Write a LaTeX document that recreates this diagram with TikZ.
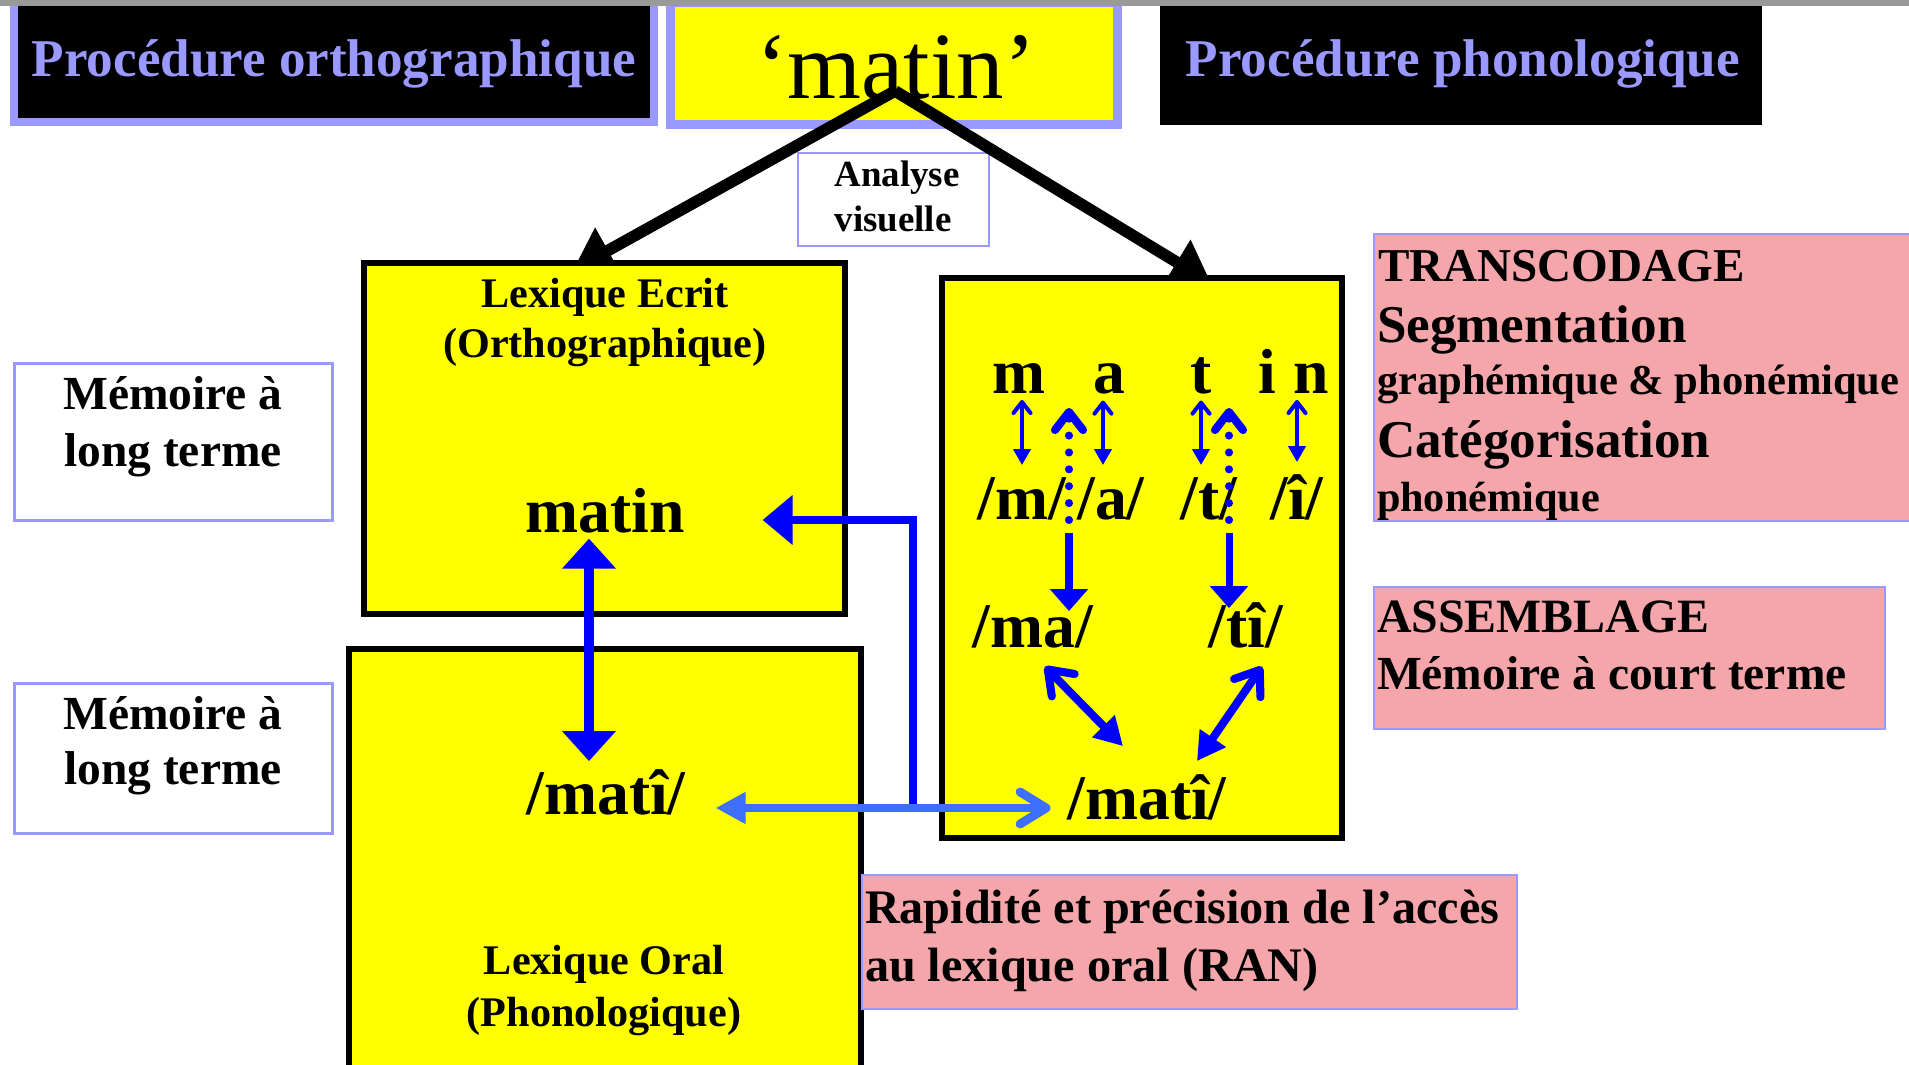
\documentclass[tikz,border=0pt]{standalone}
\usepackage{fontspec}
\setmainfont{Liberation Serif}
\usetikzlibrary{arrows.meta}

\definecolor{lav}{HTML}{9999FF}
\definecolor{rose}{HTML}{F4A6AB}
\definecolor{ltblue}{HTML}{3F6FFF}
\definecolor{ylw}{HTML}{FFFF00}
\definecolor{topbar}{HTML}{999999}
\newcommand{\fsz}[1]{\fontsize{#1}{#1}\selectfont\bfseries}

\begin{document}
\begin{tikzpicture}[x = 0.01cm, y = -0.01cm,
        every node/.style = {inner sep = 0pt, outer sep = 0pt},
        txt/.style = {anchor = base},
        ltxt/.style = {anchor = base west},
        lexbox/.style = {draw = black, fill = ylw, line width = 1.7pt},
        memo/.style = {draw = lav, fill = white, line width = 0.8pt},
        rosebox/.style = {draw = lav, fill = rose, line width = 0.7pt},
        blk/.style = {line width = 3.3pt, -{Triangle[length = 0.4cm, width = 0.5cm]}},
        bigblue/.style = {blue, line width = 2.85pt, {Triangle[length = 0.3cm, width = 0.52cm]}-{Triangle[length = 0.3cm, width = 0.52cm]}},
        elbow/.style = {blue, line width = 2.3pt, -{Triangle[length = 0.3cm, width = 0.48cm]}},
        ltarrow/.style = {ltblue, line width = 2.5pt, {Triangle[length = 0.3cm, width = 0.3cm]}-{Straight Barb[round, length = 0.26cm, width = 0.32cm]}},
        sm/.style = {blue, line width = 1.15pt, shorten < = 0.13cm, shorten > = 0.06cm, {Triangle[length = 0.16cm, width = 0.17cm]}-{Straight Barb[round, length = 0.11cm, width = 0.17cm]}},
        dots/.style = {blue, line width = 2.3pt, line cap = round, dash pattern = on 0pt off 4.8pt, -{Straight Barb[round, length = 0.18cm, width = 0.28cm]}},
        down/.style = {blue, line width = 2pt, shorten > = -0.05cm, -{Triangle[length = 0.22cm, width = 0.37cm]}},
        diag/.style = {blue, line width = 2.3pt, {Straight Barb[round, length = 0.22cm, width = 0.32cm]}-{Triangle[length = 0.28cm, width = 0.3cm]}}]

    \clip (0, 0) rectangle (1909, 1065);

    % titres
    \node (hdL) at (334, 62) [fill = black, draw = lav, line width = 2.3pt, minimum width = 6.4cm, minimum height = 1.2cm] {};
    \node (hdM) at (894, 63.25) [fill = ylw, draw = lav, line width = 2.6pt, minimum width = 4.47cm, minimum height = 1.225cm] {};
    \node (hdR) at (1461, 65.5) [fill = black, minimum width = 6.02cm, minimum height = 1.19cm] {};
    \node (hl) at (334, 77) [txt, text = lav, font = \fsz{15.1}] {Procédure orthographique};
    \node (hr) at (1463, 77) [txt, text = lav, font = \fsz{15.1}] {Procédure phonologique};
    \node (mot) at (896, 99) [txt, font = \fontsize{27}{27}\selectfont] {‘matin’};

    \node (av) at (893.5, 199.5) [memo, minimum width = 1.91cm, minimum height = 0.93cm] {};
    \node (av1) at (897, 187) [txt, font = \fsz{10.5}] {Analyse};
    \node (av2) at (893, 232) [txt, font = \fsz{10.5}] {visuelle};

    % deux voies
    \coordinate (apex) at (895, 91);
    \coordinate (tipL) at (573, 270);
    \coordinate (tipR) at (1211, 283);
    \draw[blk] (apex) -- (tipL);
    \draw[blk] (apex) -- (tipR);

    \node (lexE) at (604.5, 438.5) [lexbox, minimum width = 4.81cm, minimum height = 3.51cm] {};
    \node (lexO) at (605, 874.5) [lexbox, minimum width = 5.12cm, minimum height = 4.51cm] {};
    \node (phon) at (1142, 558) [lexbox, minimum width = 4cm, minimum height = 5.6cm] {};

    \node (memA) at (173.5, 442) [memo, minimum width = 3.18cm, minimum height = 1.57cm] {};
    \node (memB) at (173.5, 758.5) [memo, minimum width = 3.18cm, minimum height = 1.5cm] {};
    \node (mA1) at (173, 410) [txt, font = \fsz{13.5}] {Mémoire à};
    \node (mA2) at (173, 467) [txt, font = \fsz{13.5}] {long terme};
    \node (mB1) at (173, 730) [txt, font = \fsz{13.5}] {Mémoire à};
    \node (mB2) at (173, 785) [txt, font = \fsz{13.5}] {long terme};

    \node (trans) at (1649.5, 377.5) [rosebox, minimum width = 5.51cm, minimum height = 2.87cm] {};
    \node (tr1) at (1378, 282) [ltxt, font = \fsz{13.4}] {TRANSCODAGE};
    \node (tr2) at (1377, 343) [ltxt, font = \fsz{15.1}] {Segmentation};
    \node (tr3) at (1377, 395) [ltxt, font = \fsz{12.1}] {graphémique \& phonémique};
    \node (tr4) at (1377, 458) [ltxt, font = \fsz{15.1}] {Catégorisation};
    \node (tr5) at (1377, 512) [ltxt, font = \fsz{12}] {phonémique};

    \node (asm) at (1629.5, 658) [rosebox, minimum width = 5.11cm, minimum height = 1.42cm] {};
    \node (as1) at (1377, 633) [ltxt, font = \fsz{13.6}] {ASSEMBLAGE};
    \node (as2) at (1377, 690) [ltxt, font = \fsz{13.5}] {Mémoire à court terme};

    \node (ran) at (1189.5, 942) [rosebox, minimum width = 6.55cm, minimum height = 1.34cm] {};
    \node (ra1) at (865, 924) [ltxt, font = \fsz{13.7}] {Rapidité et précision de l’accès};
    \node (ra2) at (865, 982) [ltxt, font = \fsz{13.7}] {au lexique oral (RAN)};

    % lexiques
    \node (le1) at (605, 308) [txt, font = \fsz{12}] {Lexique Ecrit};
    \node (le2) at (605, 358) [txt, font = \fsz{12}] {(Orthographique)};
    \node (lw) at (605, 533) [txt, font = \fsz{18.1}] {matin};
    \node (ow) at (606, 815) [txt, font = \fsz{18.1}] {/matî/};
    \node (lo1) at (604, 975) [txt, font = \fsz{12}] {Lexique Oral};
    \node (lo2) at (604, 1027) [txt, font = \fsz{12}] {(Phonologique)};

    % graphemes, phonemes
    \node (gm) at (1019, 394) [txt, font = \fsz{18.1}] {m};
    \node (ga) at (1109, 394) [txt, font = \fsz{18.1}] {a};
    \node (gt) at (1201, 394) [txt, font = \fsz{18.1}] {t};
    \node (gi) at (1267, 394) [txt, font = \fsz{18.1}] {i};
    \node (gn) at (1311, 394) [txt, font = \fsz{18.1}] {n};
    \node (pm) at (1022, 520) [txt, font = \fsz{18.1}] {/m/};
    \node (pa) at (1111, 520) [txt, font = \fsz{18.1}] {/a/};
    \node (pt) at (1209, 520) [txt, font = \fsz{18.1}] {/t/};
    \node (pi) at (1297, 520) [txt, font = \fsz{18.1}] {/î/};
    \node (sma) at (1033, 648) [txt, font = \fsz{18.1}] {/ma/};
    \node (sti) at (1246, 648) [txt, font = \fsz{18.1}] {/tî/};
    \node (wm) at (1147, 820) [txt, font = \fsz{18.1}] {/matî/};

    \draw[sm] (pm.north) -- (pm.north |- gm.south);
    \draw[sm] ([xshift = -0.08cm]pa.north) -- ([xshift = -0.08cm]pa.north |- ga.south);
    \draw[sm] (pt.north -| gt.south) -- (gt.south);
    \draw[sm] (pi.north) -- (pi.north |- gn.south);

    \coordinate (ma0) at (1069, 520);
    \coordinate (ma1) at (1069, 408);
    \coordinate (ma2) at (1069, 533);
    \coordinate (ti0) at (1229, 520);
    \coordinate (ti1) at (1229, 408);
    \coordinate (ti2) at (1229, 533);
    \draw[dots] (ma0) -- (ma1);
    \draw[dots] (ti0) -- (ti1);
    \draw[down] (ma2) -- (ma2 |- sma.north);
    \draw[down] (ti2) -- (ti2 |- sti.north);

    \draw[diag] ([shift = {(12, 18)}]sma.south) -- ([shift = {(-24, -29)}]wm.north);
    \draw[diag] ([shift = {(16, 18)}]sti.south) -- ([shift = {(50, -14)}]wm.north);

    % acces lexical
    \draw[bigblue] ([shift = {(-16, 5)}]lw.south) -- ([shift = {(-17, -9)}]ow.north);
    \coordinate (jn) at (913, 808);
    \draw[elbow] (jn) |- ([shift = {(78, -13)}]lw.base east);
    \draw[ltarrow] ([shift = {(30, -7)}]ow.base east) -- ([shift = {(-17, -12)}]wm.base west);

    \fill[topbar] (0, 0) rectangle (1909, 6);
\end{tikzpicture}
\end{document}
